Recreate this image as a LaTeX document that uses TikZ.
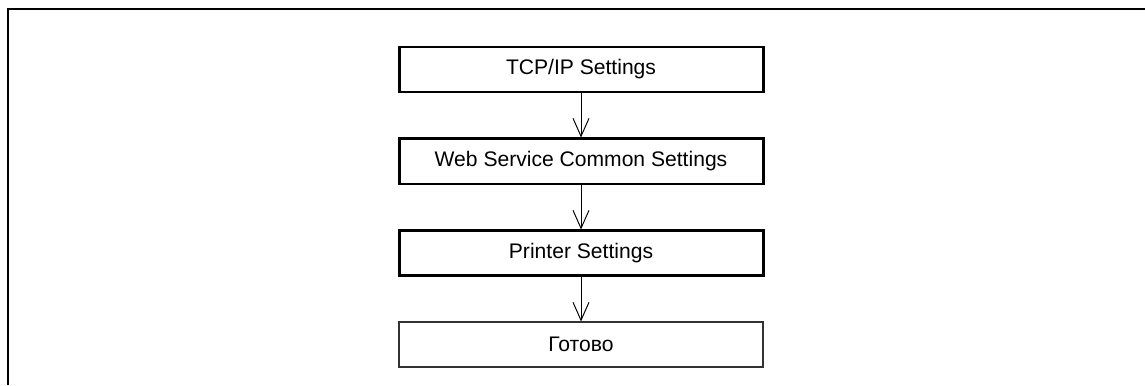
\documentclass[tikz,border=0pt]{standalone}
\usepackage{fontspec}
\setmainfont{Liberation Sans}
\usepackage{tikz}
\usetikzlibrary{arrows.meta,positioning}
\usepackage{xcolor}
\definecolor{frameBlack}{RGB}{0,0,0}
\definecolor{doneGray}{RGB}{50,50,50}

\begin{document}
\begin{tikzpicture}[
  stepbox/.style={rectangle, draw=frameBlack, line width=1.7pt,
              fill=white, minimum width=7.28cm,
              minimum height=0.9cm, font=\fontsize{12}{14}\selectfont},
  donebox/.style={stepbox, draw=doneGray, line width=0.8pt},
  arr/.style={-{Straight Barb[length=3.6mm,width=3.2mm]}, line width=0.55pt},
  node distance=0.88cm
]
  \useasboundingbox (0,0) rectangle (22.9,-7.7);
  % frame, open at right and bottom
  \coordinate (frameBL) at (0.16,-7.7);
  \coordinate (frameTL) at (0.16,-0.18);
  \coordinate (frameTR) at (22.9,-0.18);
  \draw[line width=1.7pt] (frameBL) -- (frameTL) -- (frameTR);

  \node[stepbox] (tcp) at (11.62,-1.39) {TCP/IP Settings};
  \node[stepbox, below=of tcp] (web) {Web Service Common Settings};
  \node[stepbox, below=of web] (prn) {Printer Settings};
  \node[donebox, below=of prn] (done) {Готово};
  \foreach \a/\b in {tcp/web,web/prn,prn/done}
    \draw[arr] (\a.south) -- (\b.north);
\end{tikzpicture}
\end{document}
